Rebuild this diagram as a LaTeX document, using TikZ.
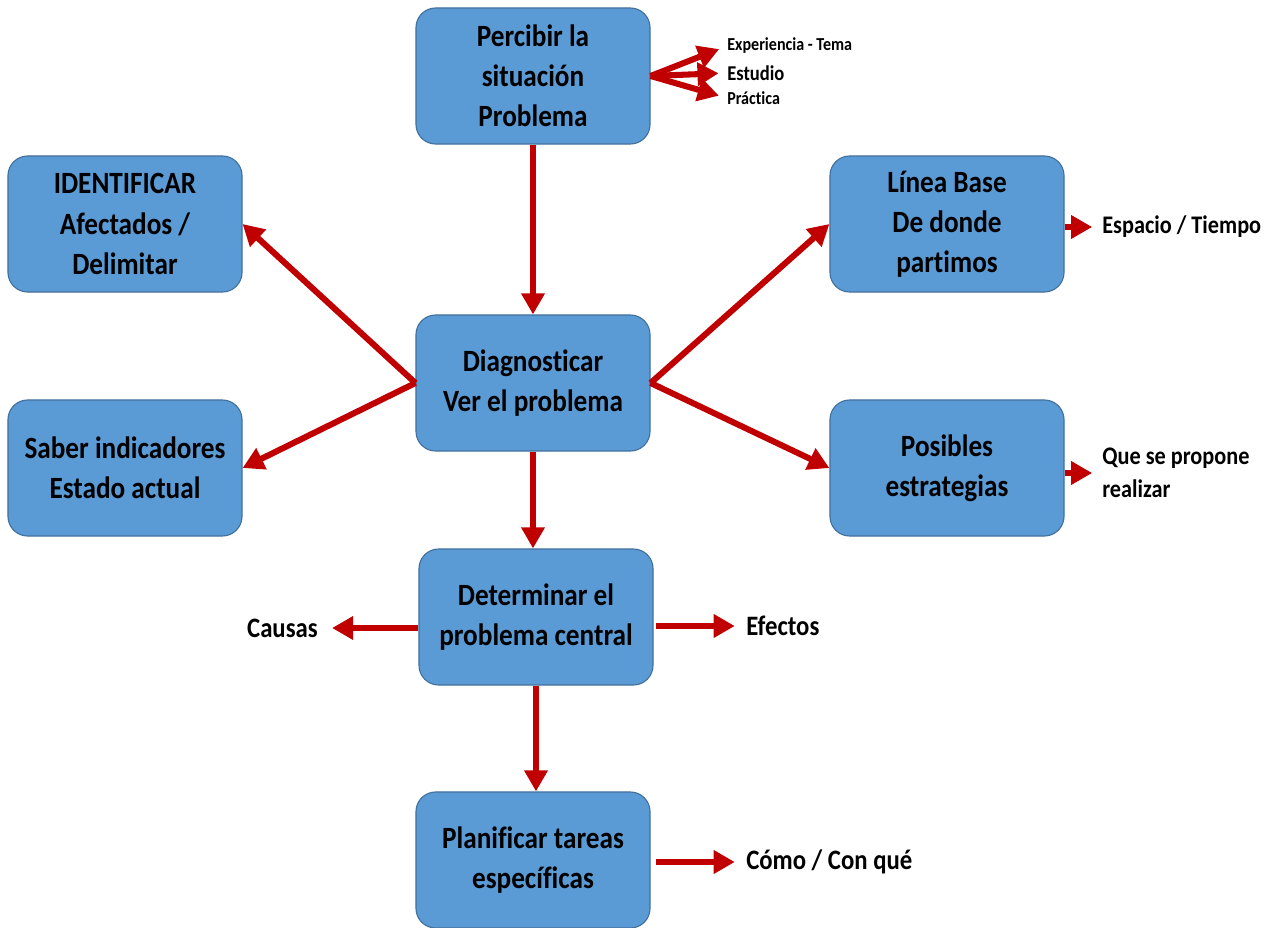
\documentclass[tikz,border=0pt]{standalone}
\usepackage{fontspec}
\setmainfont{Carlito}[FakeStretch=0.88,Ligatures={NoCommon,NoContextual},RawFeature={-liga;-clig;-dlig}]
\usetikzlibrary{arrows.meta,positioning}
\definecolor{boxblue}{HTML}{5B9BD5}
\definecolor{boxline}{HTML}{41719C}
\definecolor{arrowred}{HTML}{C00000}

\begin{document}
\begin{tikzpicture}[x=0.025cm,y=-0.025cm,>={Triangle[length=15pt,width=16pt]},
  every edge/.style={draw=arrowred,line width=4.3pt,->},
  main node/.style={rectangle,rounded corners=14pt,fill=boxblue,draw=boxline,line width=0.8pt,
    minimum width=5.85cm,minimum height=3.4cm,align=center,font=\fontsize{22}{28.5}\selectfont\bfseries},
  side node/.style={inner sep=0pt,align=left,font=\fontsize{20}{24}\selectfont\bfseries}]

  \useasboundingbox (0,0) rectangle (1271,928);

  % the boxes, placed at the centres they have in the chart
  \node[main node] (percibir) at (533,76) {Percibir la\\situación\\Problema};
  \node[main node] (identificar) at (125,224) {IDENTIFICAR\\Afectados /\\Delimitar};
  \node[main node] (linea) at (947,224) {Línea Base\\De donde\\partimos};
  \node[main node] (diag) at (533,383) {Diagnosticar\\Ver el problema};
  \node[main node] (saber) at (125,468) {Saber indicadores\\Estado actual};
  \node[main node] (posibles) at (947,468) {Posibles\\estrategias};
  \node[main node] (determinar) at (536,617) {Determinar el\\problema central};
  \node[main node] (planificar) at (533,860) {Planificar tareas\\específicas};

  % the loose words beside the boxes
  \node[side node,anchor=west,font=\fontsize{13}{15}\selectfont\bfseries] (experiencia) at (727,46) {Experiencia - Tema};
  \node[side node,anchor=west,font=\fontsize{15}{17}\selectfont\bfseries] (estudio) at (727,73) {Estudio};
  \node[side node,anchor=west,font=\fontsize{13}{15}\selectfont\bfseries] (practica) at (727,98) {Práctica};
  \node[side node,anchor=west,font=\fontsize{18}{22}\selectfont\bfseries] (espacio) at (1102,227) {Espacio / Tiempo};
  \node[side node,anchor=west,font=\fontsize{18}{23.5}\selectfont\bfseries] (propone) at (1102,473) {Que se propone\\realizar};
  \node[side node,anchor=east] (causas) at (318,628) {Causas};
  \node[side node,anchor=west] (efectos) at (746,626) {Efectos};
  \node[side node,anchor=west] (como) at (746,862) {Cómo / Con qué};

  \path
    (percibir) edge (diag)
    (percibir.east) edge[shorten >=6pt] (experiencia.west)
                    edge[shorten >=6pt] (estudio.west)
                    edge[shorten >=6pt] (practica.west)
    (diag.west) edge (identificar.east)
                edge (saber.east)
    (diag.east) edge (linea.west)
                edge (posibles.west)
    (diag.south) edge (diag.south |- determinar.north)
    (linea.east |- espacio.west) edge[shorten >=7pt] (espacio.west)
    (posibles.east |- propone.west) edge[shorten >=7pt] (propone.west)
    (determinar.west |- causas.east) edge[shorten >=10pt] (causas.east)
    (determinar.east |- efectos.west) edge[shorten <=2pt,shorten >=8pt] (efectos.west)
    (determinar.south) edge (determinar.south |- planificar.north)
    (planificar.east |- como.west) edge[shorten <=4pt,shorten >=8pt] (como.west);
\end{tikzpicture}
\end{document}
